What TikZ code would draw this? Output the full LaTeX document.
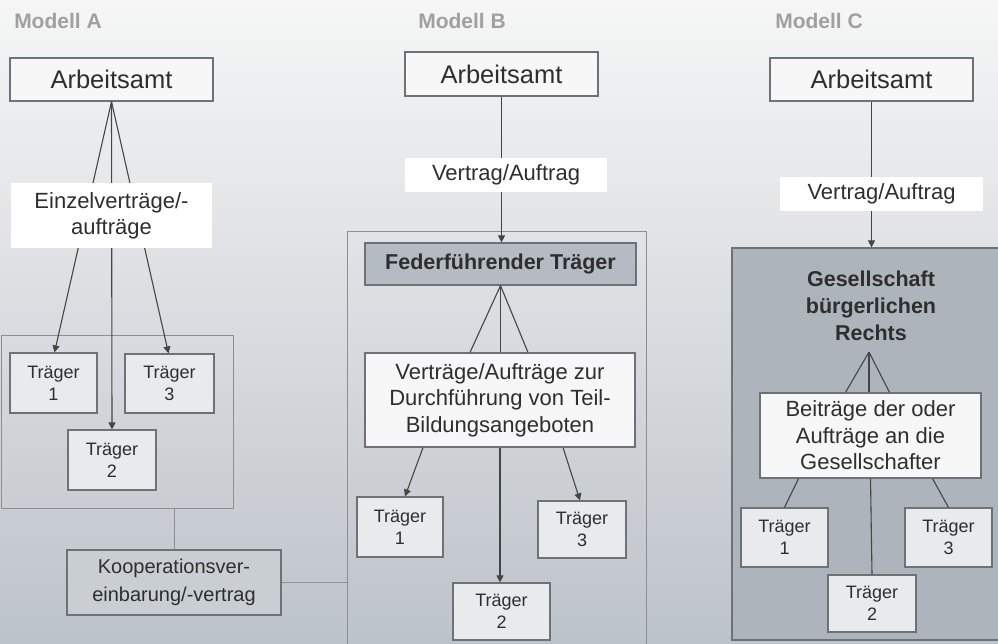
\documentclass[tikz,border=0pt]{standalone}
\usepackage{fontspec}
\setmainfont{Liberation Sans}
\usetikzlibrary{arrows.meta}
\definecolor{bgtop}{HTML}{F6F6F6}
\definecolor{bgmid}{HTML}{DEE1E4}
\definecolor{bgbot}{HTML}{BDC3CA}
\definecolor{bordergray}{HTML}{6E7277}
\definecolor{txt}{HTML}{2E2E2E}
\definecolor{titlegray}{HTML}{A0A0A0}
\definecolor{tfill}{HTML}{E8EAEC}
\definecolor{fedfill}{HTML}{B5BBC2}
\definecolor{gcfill}{HTML}{AEB4BB}
\definecolor{koopfill}{HTML}{C9CED3}
\definecolor{linegray}{HTML}{454545}
\tikzset{
  box/.style={draw=bordergray, line width=1.2pt, inner sep=0pt, align=center, text=txt},
  amt/.style={box, fill=white!97!black, minimum width=203pt, minimum height=43pt, font=\fontsize{25.5}{30}\selectfont},
  traeger/.style={box, fill=tfill, minimum width=87pt, minimum height=60pt, font=\fontsize{18}{22}\selectfont},
  lbl/.style={fill=white, inner sep=0pt, align=center, text=txt, font=\fontsize{22}{26}\selectfont},
  wbox/.style={box, fill=white!97!black, font=\fontsize{22}{26.5}\selectfont},
  grp/.style={draw=bordergray!80, line width=1pt, inner sep=0pt},
  title/.style={text=titlegray, font=\bfseries\fontsize{21}{25}\selectfont},
  conn/.style={draw=linegray, line width=1.1pt},
  arr/.style={conn, -{Triangle[width=7pt,length=7pt]}}
}
\begin{document}
\begin{tikzpicture}[x=1pt,y=-1pt]
\useasboundingbox (0,0) rectangle (998,643);
\shade[top color=bgtop, middle color=bgmid, bottom color=bgbot] (0,0) rectangle (998,643);

% ---------------- Modell A ----------------
\node[title] (titA) at (58,21) {Modell A};
\node[amt] (arbA) at (111.5,79.5) {Arbeitsamt};
\node[grp, minimum width=232pt, minimum height=173pt] (grpA) at (117,421.5) {};
\node[traeger] (tA1) at (53.5,383) {Träger\\1};
\node[traeger, minimum width=89pt, minimum height=59pt] (tA3) at (169.5,383.5) {Träger\\3};
\node[traeger, minimum width=88pt] (tA2) at (112,460) {Träger\\2};
\draw[arr] (arbA.south) -- ([xshift=1pt]tA1.north);
\draw[arr] (arbA.south) -- (tA2.north);
\draw[arr] (arbA.south) -- ([xshift=-1pt]tA3.north);
\node[lbl, minimum width=201pt, minimum height=65pt] (labA) at (111.5,215.5) {Einzelverträge/-\\aufträge};
\node[box, fill=koopfill, minimum width=214pt, minimum height=65pt, font=\fontsize{20}{28}\selectfont] (koop) at (174,582.5) {Kooperationsver-\\einbarung/-vertrag};
\draw[conn, draw=bordergray!80, line width=1pt] (koop.north) -- (koop.north |- grpA.south);

% ---------------- Modell B ----------------
\node[title] (titB) at (462,21) {Modell B};
\node[grp, minimum width=299pt, minimum height=429pt] (grpB) at (496.5,445.5) {};
\draw[conn, draw=bordergray!80, line width=1pt] (koop.east) -- (koop.east -| grpB.west);
\node[amt, minimum width=193pt, minimum height=44pt] (arbB) at (501.5,74) {Arbeitsamt};
\node[box, fill=fedfill, minimum width=271pt, minimum height=42pt, font=\bfseries\fontsize{21.5}{26}\selectfont] (fedB) at (500.5,264) {Federführender Träger};
\draw[arr] (arbB.south) -- (arbB.south |- fedB.north);
\node[lbl, minimum width=202pt, minimum height=34pt] (labB) at (506,175) {Vertrag/Auftrag};
\node[wbox, minimum width=270pt, minimum height=94pt] (vertB) at (500,400) {Verträge/Aufträge zur\\Durchführung von Teil-\\Bildungsangeboten};
\draw[conn] (fedB.south) -- ([xshift=-30pt]vertB.north);
\draw[conn] (fedB.south) -- (fedB.south |- vertB.north);
\draw[conn] (fedB.south) -- ([xshift=28pt]vertB.north);
\node[traeger, minimum width=86pt] (tB1) at (400,527) {Träger\\1};
\node[traeger, minimum width=88pt, minimum height=57pt] (tB3) at (582,529.5) {Träger\\3};
\node[traeger, minimum width=97pt, minimum height=57pt] (tB2) at (501.5,611.5) {Träger\\2};
\draw[arr] ([xshift=-77pt]vertB.south) -- ([xshift=5pt]tB1.north);
\draw[arr] (vertB.south) -- (vertB.south |- tB2.north);
\draw[arr] ([xshift=63pt]vertB.south) -- ([xshift=-2pt]tB3.north);

% ---------------- Modell C ----------------
\node[title] (titC) at (819,21) {Modell C};
\node[amt] (arbC) at (871.5,79.5) {Arbeitsamt};
\node[grp, draw=bordergray, line width=1.2pt, fill=gcfill, minimum width=280pt, minimum height=392pt] (grpC) at (872,444) {};
\draw[arr] (arbC.south) -- (arbC.south |- grpC.north);
\node[lbl, minimum width=203pt, minimum height=34pt] (labC) at (881.5,194) {Vertrag/Auftrag};
\node[align=center, text=txt, inner sep=0pt, font=\bfseries\fontsize{21.5}{27}\selectfont] (gesC) at (871,306) {Gesellschaft\\bürgerlichen\\Rechts};
\coordinate (gC) at (869,352);
\node[wbox, minimum width=221pt, minimum height=85pt] (beiC) at (870.5,435.5) {Beiträge der oder\\Aufträge an die\\Gesellschafter};
\draw[conn] (gC) -- ([xshift=-25pt]beiC.north);
\draw[conn] (gC) -- (gC |- beiC.north);
\draw[conn] (gC) -- ([xshift=19pt]beiC.north);
\node[traeger, minimum height=59pt] (tC1) at (784.5,537.5) {Träger\\1};
\node[traeger, minimum height=59pt] (tC3) at (948.5,537.5) {Träger\\3};
\node[traeger, minimum width=88pt, minimum height=57pt] (tC2) at (872,603.5) {Träger\\2};
\draw[conn] ([xshift=-72pt]beiC.south) -- (tC1.north);
\draw[conn] (beiC.south) -- (tC2.north);
\draw[conn] ([xshift=62pt]beiC.south) -- (tC3.north);
\end{tikzpicture}
\end{document}
